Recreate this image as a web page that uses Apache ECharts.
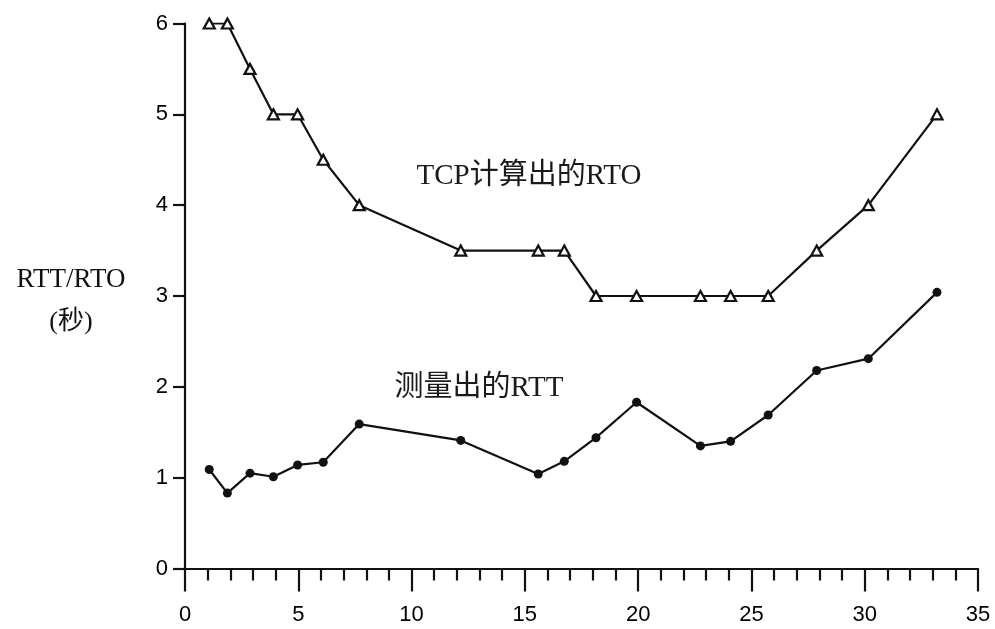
<!DOCTYPE html>
<html>
<head>
<meta charset="utf-8">
<script src="https://cdn.jsdelivr.net/npm/echarts@6/dist/echarts.min.js"></script>
<style>
html,body{margin:0;padding:0;background:#fff;}
#chart{width:995px;height:629px;}
</style>
</head>
<body>
<div id="chart"></div>
<script>
// Sample times (seconds) shared by both series
const xValues = [1.07, 1.87, 2.87, 3.90, 4.97, 6.10, 7.69, 12.17, 15.59, 16.74, 18.14, 19.93, 22.75, 24.08, 25.74, 27.88, 30.16, 33.19];
// Calculated RTO (seconds)
const rtoValues = [6, 6, 5.5, 5, 5, 4.5, 4, 3.5, 3.5, 3.5, 3, 3, 3, 3, 3, 3.5, 4, 5];
// Measured RTT (seconds)
const rttValues = [1.09, 0.83, 1.05, 1.01, 1.14, 1.17, 1.59, 1.41, 1.04, 1.18, 1.44, 1.83, 1.35, 1.40, 1.69, 2.18, 2.31, 3.04];
const xTicks = [0, 5, 10, 15, 20, 25, 30, 35];
const yTicks = [0, 1, 2, 3, 4, 5, 6];
const rtoLabel = 'TCP计算出的RTO';
const rttLabel = '测量出的RTT';
const yName1 = 'RTT/RTO';
const yName2 = '(秒)';

const serif = '"Liberation Serif","Noto Sans CJK SC",serif';
const sans = '"Liberation Sans","Noto Sans",sans-serif';
const ink = '#111';

const chart = echarts.init(document.getElementById('chart'), null, {renderer: 'canvas'});
chart.setOption({
  animation: false,
  backgroundColor: '#fff',
  grid: {left: 185, right: 17, top: 23.5, bottom: 60.5},
  xAxis: {
    type: 'value',
    min: xTicks[0], max: xTicks[xTicks.length - 1], interval: 5,
    axisLine: {show: true, lineStyle: {color: ink, width: 2.2}},
    axisTick: {show: true, inside: false, length: 23, lineStyle: {color: ink, width: 2.2}},
    minorTick: {show: true, splitNumber: 5, length: 12, lineStyle: {color: ink, width: 2.2}},
    axisLabel: {margin: 35, color: '#000', fontSize: 22, fontFamily: sans},
    splitLine: {show: false}
  },
  yAxis: {
    type: 'value',
    min: yTicks[0], max: yTicks[yTicks.length - 1], interval: 1,
    axisLine: {show: true, lineStyle: {color: ink, width: 2.2}},
    axisTick: {show: true, inside: false, length: 12, lineStyle: {color: ink, width: 2.2}},
    axisLabel: {margin: 17, color: '#000', fontSize: 22, fontFamily: sans},
    splitLine: {show: false}
  },
  series: [
    {
      name: 'RTO', type: 'line',
      data: xValues.map((x, i) => [x, rtoValues[i]]),
      symbol: 'triangle', symbolSize: [11, 10],
      itemStyle: {color: '#fff', borderColor: ink, borderWidth: 2.2},
      lineStyle: {color: ink, width: 2.2},
      z: 3
    },
    {
      name: 'RTT', type: 'line',
      data: xValues.map((x, i) => [x, rttValues[i]]),
      symbol: 'circle', symbolSize: 9,
      itemStyle: {color: ink, borderColor: ink, borderWidth: 0},
      lineStyle: {color: ink, width: 2.2},
      z: 3
    }
  ],
  graphic: [
    {type: 'text', x: 529, y: 176, style: {text: rtoLabel, font: '29px ' + serif, fill: '#1a1a1a', align: 'center', verticalAlign: 'middle'}},
    {type: 'text', x: 479, y: 388, style: {text: rttLabel, font: '29px ' + serif, fill: '#1a1a1a', align: 'center', verticalAlign: 'middle'}},
    {type: 'text', x: 71, y: 280, style: {text: yName1, font: '27px ' + serif, fill: '#111', align: 'center', verticalAlign: 'middle'}},
    {type: 'text', x: 71, y: 322, style: {text: yName2, font: '26px ' + serif, fill: '#111', align: 'center', verticalAlign: 'middle'}}
  ]
});
</script>
</body>
</html>
